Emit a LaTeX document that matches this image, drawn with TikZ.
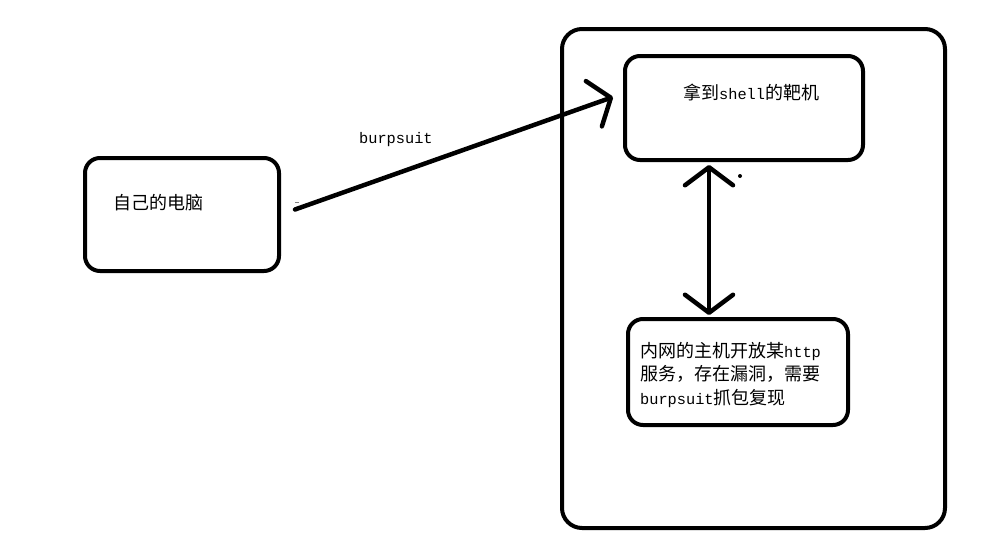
\documentclass[tikz,border=0pt]{standalone}
\usepackage{fontspec}
\setmainfont{Noto Sans CJK SC}
\setmonofont{Liberation Mono}
\usetikzlibrary{arrows.meta}
\newcommand\lat[1]{{\fontsize{15.3pt}{23.5pt}\selectfont\ttfamily #1}}
\begin{document}
\begin{tikzpicture}[x=1pt,y=-1pt,
  box/.style={draw=black, line width=4pt, rounded corners=15pt, inner sep=0pt},
  label/.style={inner sep=0pt, text=black, font=\fontsize{18pt}{23.5pt}\selectfont},
  conn/.style={line width=4.5pt, line cap=round},
  barb/.tip={Straight Barb[length=18pt,width=48pt,round]}]
\useasboundingbox (0,0) rectangle (991,554);
\fill[white] (0,0) rectangle (991,554);
% boxes
\node[box, rounded corners=20pt, minimum width=383pt, minimum height=499pt] (net) at (753.5,278.5) {};
\node[box, minimum width=194pt, minimum height=113pt] (pc) at (182,214.5) {};
\node[box, minimum width=238pt, minimum height=104pt] (target) at (744,108) {};
\node[box, minimum width=220pt, minimum height=106pt] (host) at (738,372) {};
% texts
\node[label, anchor=base west] (pctext) at (113,209) {自己的电脑};
\node[label, anchor=base west] (targettext) at (683,99) {拿到\lat{shell}的靶机};
\node[label, anchor=base west, align=left] (hosttext) at (640,404) {内网的主机开放某\lat{http}\\服务，存在漏洞，需要\\\lat{burpsuit}抓包复现};
\node[label, anchor=base west] (burp) at (359,143) {\lat{burpsuit}};
% connectors (canvas y points up: positive yshift moves up in the picture)
\coordinate (s) at ([xshift=14pt,yshift=5pt]pc.east);
\coordinate (e) at ([xshift=-10pt,yshift=11pt]target.west);
\draw[conn, -barb] (s) -- (e);
\coordinate (vx) at (709,0);
\draw[conn, barb-barb] ([yshift=-3pt]target.south -| vx) -- ([yshift=2pt]host.north -| vx);
% small marks
\fill[black] (740,176) circle (2pt);
\draw[gray, line width=1pt] (295,202) -- (299,202);
\end{tikzpicture}
\end{document}
